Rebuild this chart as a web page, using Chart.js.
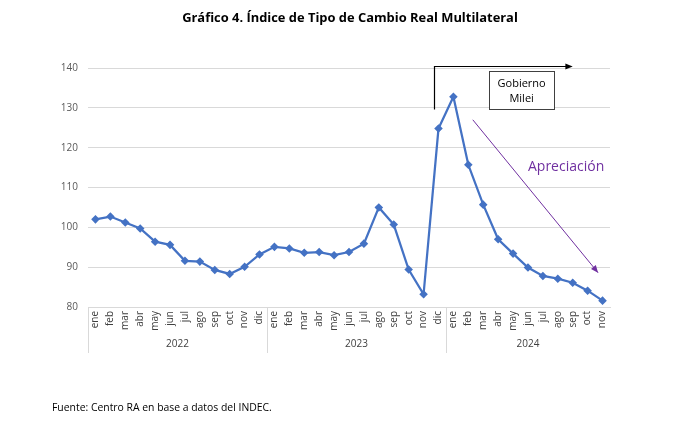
<!DOCTYPE html>
<html>
<head>
<meta charset="utf-8">
<script src="https://cdn.jsdelivr.net/npm/chart.js@4"></script>
<style>
  body { margin: 0; background: #fff; }
  #wrap { position: relative; width: 700px; height: 439px; }
  #c { position: absolute; left: 0; top: 0; }
  #titulo { position: absolute; left: 0; width: 700px; top: 8px; text-align: center;
    font: bold 12.9px "Open Sans", sans-serif; color: #000; }
  #fuente { position: absolute; left: 52px; top: 400px; font: 10.4px "Open Sans", sans-serif; color: #000; }
</style>
</head>
<body>
<div id="wrap">
  <canvas id="c" width="700" height="439"></canvas>
  <div id="titulo">Gráfico 4. Índice de Tipo de Cambio Real Multilateral</div>
  <div id="fuente">Fuente: Centro RA en base a datos del INDEC.</div>
</div>
<script>
// meses y años del eje
var meses = ["ene","feb","mar","abr","may","jun","jul","ago","sep","oct","nov","dic"];
var anios = ["2022", "2023", "2024"];
var mesesPorAnio = [12, 12, 11];

// indice TCRM
var itcrm2022 = [102.0, 102.7, 101.2, 99.7, 96.4, 95.6, 91.6, 91.4, 89.3, 88.3, 90.1, 93.2];
var itcrm2023 = [95.1, 94.7, 93.6, 93.8, 93.0, 93.8, 95.9, 105.0, 100.7, 89.4, 83.2, 124.8];
var itcrm2024 = [132.8, 115.7, 105.7, 97.0, 93.4, 89.9, 87.8, 87.1, 86.1, 84.1, 81.6];

var yTicks = [80, 90, 100, 110, 120, 130, 140];

var labels = [];
for (var a = 0; a < anios.length; a++) {
  for (var m = 0; m < mesesPorAnio[a]; m++) labels.push(meses[m]);
}
var valores = itcrm2022.concat(itcrm2023, itcrm2024);

function arrow(ctx, x1, y1, x2, y2, size) {
  var ang = Math.atan2(y2 - y1, x2 - x1);
  ctx.beginPath();
  ctx.moveTo(x2, y2);
  ctx.lineTo(x2 - size * Math.cos(ang - 0.4), y2 - size * Math.sin(ang - 0.4));
  ctx.lineTo(x2 - size * Math.cos(ang + 0.4), y2 - size * Math.sin(ang + 0.4));
  ctx.closePath();
  ctx.fill();
}

// años abajo + anotaciones
var extras = {
  id: "extras",
  afterDraw: function(chart) {
    var ctx = chart.ctx, x = chart.scales.x, y = chart.scales.y;
    var bottom = chart.chartArea.bottom;
    ctx.save();

    // separadores y años
    ctx.strokeStyle = "#d9d9d9";
    ctx.lineWidth = 1;
    ctx.fillStyle = "#404040";
    ctx.font = "10px 'Open Sans', sans-serif";
    ctx.textAlign = "center";
    ctx.textBaseline = "middle";
    var idx = 0;
    for (var a = 0; a < anios.length; a++) {
      var x0 = x.getPixelForValue(idx - 0.5);
      var x1 = x.getPixelForValue(idx + mesesPorAnio[a] - 0.5);
      ctx.beginPath();
      ctx.moveTo(Math.round(x0) + 0.5, bottom);
      ctx.lineTo(Math.round(x0) + 0.5, bottom + 46);
      ctx.stroke();
      ctx.fillText(anios[a], (x0 + x1) / 2, bottom + 37);
      idx += mesesPorAnio[a];
    }

    // flecha Gobierno Milei
    var bx = Math.round(x.getPixelForValue(22.7)) + 0.5;
    var by0 = y.getPixelForValue(129.6);
    var by1 = Math.round(y.getPixelForValue(140.4)) + 0.5;
    var bx2 = x.getPixelForValue(32.0);
    ctx.strokeStyle = "#000";
    ctx.fillStyle = "#000";
    ctx.lineWidth = 1.2;
    ctx.beginPath();
    ctx.moveTo(bx, by0);
    ctx.lineTo(bx, by1);
    ctx.lineTo(bx2 - 6, by1);
    ctx.stroke();
    arrow(ctx, bx, by1, bx2, by1, 8);

    // caja
    var rx0 = x.getPixelForValue(26.4), rx1 = x.getPixelForValue(30.75);
    var ry0 = y.getPixelForValue(139.2), ry1 = y.getPixelForValue(129.7);
    ctx.fillStyle = "#fff";
    ctx.fillRect(rx0, ry0, rx1 - rx0, ry1 - ry0);
    ctx.lineWidth = 1;
    ctx.strokeStyle = "#404040";
    ctx.strokeRect(Math.round(rx0) + 0.5, Math.round(ry0) + 0.5, Math.round(rx1 - rx0), Math.round(ry1 - ry0));
    ctx.fillStyle = "#000";
    ctx.font = "11px 'Open Sans', sans-serif";
    ctx.fillText("Gobierno", (rx0 + rx1) / 2, ry0 + 13);
    ctx.fillText("Milei", (rx0 + rx1) / 2, ry0 + 28);

    // flecha apreciacion
    var px0 = x.getPixelForValue(25.3), py0 = y.getPixelForValue(127.0);
    var px1 = x.getPixelForValue(33.7), py1 = y.getPixelForValue(88.6);
    ctx.strokeStyle = "#7030a0";
    ctx.fillStyle = "#7030a0";
    ctx.lineWidth = 1;
    ctx.beginPath();
    ctx.moveTo(px0, py0);
    ctx.lineTo(px1, py1);
    ctx.stroke();
    arrow(ctx, px0, py0, px1, py1, 8);
    ctx.font = "14px 'Open Sans', sans-serif";
    ctx.textAlign = "left";
    ctx.fillText("Apreciación", x.getPixelForValue(29.0), y.getPixelForValue(115.2));

    ctx.restore();
  }
};

new Chart(document.getElementById("c"), {
  type: "line",
  data: {
    labels: labels,
    datasets: [{
      data: valores,
      borderColor: "#4472c4",
      backgroundColor: "#4472c4",
      borderWidth: 2.25,
      pointStyle: "rectRot",
      pointRadius: 2.7,
      tension: 0
    }]
  },
  options: {
    responsive: false,
    animation: false,
    layout: { padding: { left: 40, right: 90, top: 68, bottom: 72 } },
    plugins: { legend: { display: false }, tooltip: { enabled: false } },
    scales: {
      x: {
        offset: true,
        grid: { display: false, drawTicks: false },
        border: { color: "#d9d9d9" },
        ticks: {
          autoSkip: false, maxRotation: 90, minRotation: 90, padding: 4,
          color: "#404040", font: { family: "'Open Sans', sans-serif", size: 10 }
        },
        afterFit: function(s) { s.height = 60; }
      },
      y: {
        min: 80, max: 140,
        afterBuildTicks: function(s) { s.ticks = yTicks.map(function(v) { return { value: v }; }); },
        grid: { color: "#d9d9d9", drawTicks: false },
        border: { display: false },
        ticks: { padding: 10, color: "#595959", font: { family: "'Open Sans', sans-serif", size: 10 } },
        afterFit: function(s) { s.width = 48; }
      }
    }
  },
  plugins: [extras]
});
</script>
</body>
</html>
